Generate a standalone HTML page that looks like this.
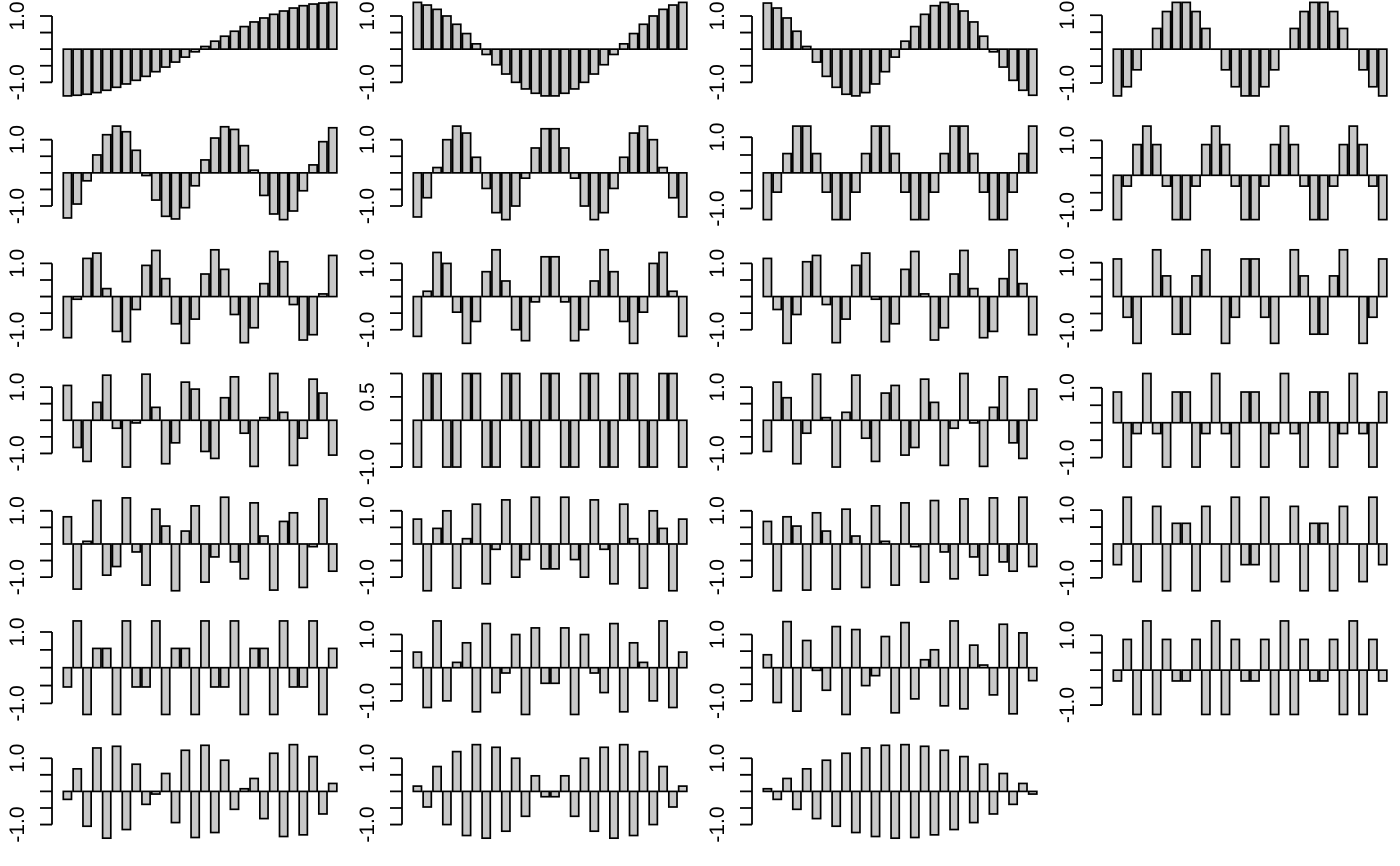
<!DOCTYPE html>
<html><head><meta charset="utf-8"><style>
html,body{margin:0;padding:0;background:#fff;}
svg{display:block;}
</style></head><body>
<svg id="chart" width="1400" height="866" viewBox="0 0 1400 866" xmlns="http://www.w3.org/2000/svg"></svg>
<script>
const basis01=[-1.41,-1.39,-1.36,-1.31,-1.24,-1.15,-1.05,-.94,-.82,-.68,-.54,-.39,-.24,-.08,.08,.24,.39,.54,.68,.82,.94,1.05,1.15,1.24,1.31,1.36,1.39,1.41];
const basis02=[1.41,1.33,1.2,1,.75,.47,.16,-.16,-.47,-.75,-1,-1.2,-1.33,-1.41,-1.41,-1.33,-1.2,-1,-.75,-.47,-.16,.16,.47,.75,1,1.2,1.33,1.41];
const basis03=[1.39,1.24,.94,.54,.08,-.39,-.82,-1.15,-1.36,-1.41,-1.31,-1.05,-.68,-.24,.24,.68,1.05,1.31,1.41,1.36,1.15,.82,.39,-.08,-.54,-.94,-1.24,-1.39];
const basis04=[-1.38,-1.11,-.61,0,.61,1.11,1.38,1.38,1.11,.61,0,-.61,-1.11,-1.38,-1.38,-1.11,-.61,0,.61,1.11,1.38,1.38,1.11,.61,0,-.61,-1.11,-1.38];
const basis05=[-1.36,-.94,-.24,.54,1.15,1.41,1.24,.68,-.08,-.82,-1.31,-1.39,-1.05,-.39,.39,1.05,1.39,1.31,.82,.08,-.68,-1.24,-1.41,-1.15,-.54,.24,.94,1.36];
const basis06=[-1.33,-.75,.16,1,1.41,1.2,.47,-.47,-1.2,-1.41,-1,-.16,.75,1.33,1.33,.75,-.16,-1,-1.41,-1.2,-.47,.47,1.2,1.41,1,.16,-.75,-1.33];
const basis07=[-1.31,-.54,.54,1.31,1.31,.54,-.54,-1.31,-1.31,-.54,.54,1.31,1.31,.54,-.54,-1.31,-1.31,-.54,.54,1.31,1.31,.54,-.54,-1.31,-1.31,-.54,.54,1.31];
const basis08=[-1.27,-.31,.88,1.41,.88,-.31,-1.27,-1.27,-.31,.88,1.41,.88,-.31,-1.27,-1.27,-.31,.88,1.41,.88,-.31,-1.27,-1.27,-.31,.88,1.41,.88,-.31,-1.27];
const basis09=[-1.24,-.08,1.15,1.31,.24,-1.05,-1.36,-.39,.94,1.39,.54,-.82,-1.41,-.68,.68,1.41,.82,-.54,-1.39,-.94,.39,1.36,1.05,-.24,-1.31,-1.15,.08,1.24];
const basis10=[-1.2,.16,1.33,1,-.47,-1.41,-.75,.75,1.41,.47,-1,-1.33,-.16,1.2,1.2,-.16,-1.33,-1,.47,1.41,.75,-.75,-1.41,-.47,1,1.33,.16,-1.2];
const basis11=[1.15,-.39,-1.41,-.54,1.05,1.24,-.24,-1.39,-.68,.94,1.31,-.08,-1.36,-.82,.82,1.36,.08,-1.31,-.94,.68,1.39,.24,-1.24,-1.05,.54,1.41,.39,-1.15];
const basis12=[1.11,-.61,-1.38,0,1.38,.61,-1.11,-1.11,.61,1.38,0,-1.38,-.61,1.11,1.11,-.61,-1.38,0,1.38,.61,-1.11,-1.11,.61,1.38,0,-1.38,-.61,1.11];
const basis13=[1.05,-.82,-1.24,.54,1.36,-.24,-1.41,-.08,1.39,.39,-1.31,-.68,1.15,.94,-.94,-1.15,.68,1.31,-.39,-1.39,.08,1.41,.24,-1.36,-.54,1.24,.82,-1.05];
const basis14=[-1,1,1,-1,-1,1,1,-1,-1,1,1,-1,-1,1,1,-1,-1,1,1,-1,-1,1,1,-1,-1,1,1,-1];
const basis15=[-.94,1.15,.68,-1.31,-.39,1.39,.08,-1.41,.24,1.36,-.54,-1.24,.82,1.05,-1.05,-.82,1.24,.54,-1.36,-.24,1.41,-.08,-1.39,.39,1.31,-.68,-1.15,.94];
const basis16=[.88,-1.27,-.31,1.41,-.31,-1.27,.88,.88,-1.27,-.31,1.41,-.31,-1.27,.88,.88,-1.27,-.31,1.41,-.31,-1.27,.88,.88,-1.27,-.31,1.41,-.31,-1.27,.88];
const basis17=[.82,-1.36,.08,1.31,-.94,-.68,1.39,-.24,-1.24,1.05,.54,-1.41,.39,1.15,-1.15,-.39,1.41,-.54,-1.05,1.24,.24,-1.39,.68,.94,-1.31,-.08,1.36,-.82];
const basis18=[.75,-1.41,.47,1,-1.33,.16,1.2,-1.2,-.16,1.33,-1,-.47,1.41,-.75,-.75,1.41,-.47,-1,1.33,-.16,-1.2,1.2,.16,-1.33,1,.47,-1.41,.75];
const basis19=[.68,-1.41,.82,.54,-1.39,.94,.39,-1.36,1.05,.24,-1.31,1.15,.08,-1.24,1.24,-.08,-1.15,1.31,-.24,-1.05,1.36,-.39,-.94,1.39,-.54,-.82,1.41,-.68];
const basis20=[-.61,1.38,-1.11,0,1.11,-1.38,.61,.61,-1.38,1.11,0,-1.11,1.38,-.61,-.61,1.38,-1.11,0,1.11,-1.38,.61,.61,-1.38,1.11,0,-1.11,1.38,-.61];
const basis21=[-.54,1.31,-1.31,.54,.54,-1.31,1.31,-.54,-.54,1.31,-1.31,.54,.54,-1.31,1.31,-.54,-.54,1.31,-1.31,.54,.54,-1.31,1.31,-.54,-.54,1.31,-1.31,.54];
const basis22=[.47,-1.2,1.41,-1,.16,.75,-1.33,1.33,-.75,-.16,1,-1.41,1.2,-.47,-.47,1.2,-1.41,1,-.16,-.75,1.33,-1.33,.75,.16,-1,1.41,-1.2,.47];
const basis23=[.39,-1.05,1.39,-1.31,.82,-.08,-.68,1.24,-1.41,1.15,-.54,-.24,.94,-1.36,1.36,-.94,.24,.54,-1.15,1.41,-1.24,.68,.08,-.82,1.31,-1.39,1.05,-.39];
const basis24=[-.31,.88,-1.27,1.41,-1.27,.88,-.31,-.31,.88,-1.27,1.41,-1.27,.88,-.31,-.31,.88,-1.27,1.41,-1.27,.88,-.31,-.31,.88,-1.27,1.41,-1.27,.88,-.31];
const basis25=[-.24,.68,-1.05,1.31,-1.41,1.36,-1.15,.82,-.39,-.08,.54,-.94,1.24,-1.39,1.39,-1.24,.94,-.54,.08,.39,-.82,1.15,-1.36,1.41,-1.31,1.05,-.68,.24];
const basis26=[.16,-.47,.75,-1,1.2,-1.33,1.41,-1.41,1.33,-1.2,1,-.75,.47,-.16,-.16,.47,-.75,1,-1.2,1.33,-1.41,1.41,-1.33,1.2,-1,.75,-.47,.16];
const basis27=[.08,-.24,.39,-.54,.68,-.82,.94,-1.05,1.15,-1.24,1.31,-1.36,1.39,-1.41,1.41,-1.39,1.36,-1.31,1.24,-1.15,1.05,-.94,.82,-.68,.54,-.39,.24,-.08];
const panels=[basis01,basis02,basis03,basis04,basis05,basis06,basis07,basis08,basis09,basis10,basis11,basis12,basis13,basis14,basis15,basis16,basis17,basis18,basis19,basis20,basis21,basis22,basis23,basis24,basis25,basis26,basis27];
const yTicks=[-1,-0.5,0,0.5,1];

const NS="http://www.w3.org/2000/svg";
const svg=document.getElementById('chart');
function mk(tag,attrs,parent){const e=document.createElementNS(NS,tag);for(const k in attrs)e.setAttribute(k,attrs[k]);parent.appendChild(e);return e;}
const COLW=350, ROWH=123.71, REGH=101, UNIT=8.19;
panels.forEach((vals,p)=>{
  const r=Math.floor(p/4), c=p%4;
  const g=mk('g',{},svg);
  
  
  let mn=Math.min(0,...vals), mx=Math.max(0,...vals);
  const span=mx-mn; const lo=mn-0.04*span, hi=mx+0.04*span;
  const top=-1.35+r*ROWH;
  const y=v=>top+(hi-v)/(hi-lo)*REGH;
  const x0=61.66+c*COLW;
  const xs=u=>x0+u*UNIT;
  // axis
  const ticks=yTicks.filter(t=>t>=lo&&t<=hi);
  const ax=52+c*COLW;
  const axis=mk('path',{d:'M'+ax+' '+y(ticks[0])+'V'+y(ticks[ticks.length-1])+ticks.map(t=>'M'+(ax-12)+' '+y(t)+'H'+ax).join(''),stroke:'#000','stroke-width':1.8,fill:'none'},g);
  
  
  const labs = mx>1.05 ? [-1,1] : [-1,0.5];
  labs.forEach(t=>{
    const ly=y(t), lx=24+c*COLW;
    const tx=mk('text',{x:lx,y:ly,transform:'rotate(-90 '+lx+' '+ly+')','text-anchor':'middle','font-family':'Liberation Sans, Arial, sans-serif','font-size':21,fill:'#000'},g);
    tx.textContent=t.toFixed(1);
    
    
  });
  vals.forEach((v,i)=>{
    const xl=xs(0.2+1.2*i);
    const y1=y(Math.max(v,0)), y2=y(Math.min(v,0));
    const b=mk('rect',{x:xl,y:y1,width:UNIT,height:Math.max(y2-y1,0.01),fill:'#c8c8c8',stroke:'#000','stroke-width':1.7},g);
    
    
  });
});
</script>
</body></html>
